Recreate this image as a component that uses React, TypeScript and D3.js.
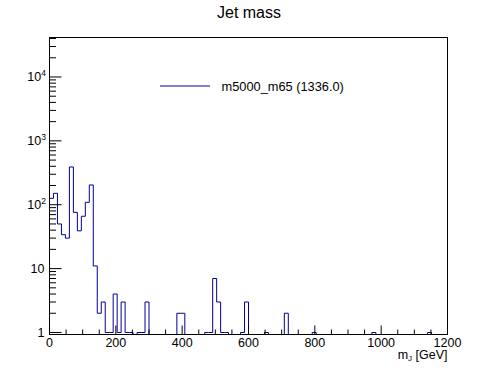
import React, { useEffect, useRef } from 'react';
import * as d3 from 'd3';

// 100 bins of 12 GeV from 0 to 1200
const binWidth = 12;
const counts = [
  126, 151, 50, 34, 30, 390, 76, 39, 66, 109,
  204, 11, 2, 3, 1, 1, 4, 1, 3, 1,
  1, 0, 1, 1, 3, 0, 0, 0, 0, 0,
  0, 0, 2, 2, 0, 0, 0, 0, 0, 1,
  1, 7, 3, 1, 1, 0, 0, 0, 1, 3,
  0, 0, 0, 0, 1, 0, 0, 0, 0, 2,
  0, 0, 0, 0, 0, 0, 1, 0, 0, 0,
  0, 0, 0, 0, 0, 0, 0, 0, 0, 0,
  0, 1, 0, 0, 0, 0, 0, 0, 0, 0,
  0, 0, 0, 0, 0, 1, 0, 0, 0, 0,
];
const xMajorTicks = [0, 200, 400, 600, 800, 1000, 1200];
const yMajorTicks = [1, 10, 100, 1000, 10000];
const yLabels = ['1', '10', '2', '3', '4']; // exponent for 10^n labels
const seriesName = 'm5000_m65 (1336.0)';

const FONT = '"Liberation Sans", Arial, Helvetica, sans-serif';
const LINE = '#000099';

const App = () => {
  const ref = useRef<SVGSVGElement>(null);

  useEffect(() => {
    const svg = d3.select(ref.current);
    svg.selectAll('*').remove();

    const left = 49.5, right = 447.5, top = 37.5, bottom = 334.5;

    const x = d3.scaleLinear().domain([0, 1200]).range([left, right]);
    const y = d3.scaleLog().domain([0.93, 41500]).range([bottom, top]);

    // histogram outline
    const pts: [number, number][] = [[x(0), bottom]];
    counts.forEach((c, i) => {
      const yy = c > 0 ? y(c) : bottom;
      pts.push([x(i * binWidth), yy]);
      pts.push([x((i + 1) * binWidth), yy]);
    });
    pts.push([x(1200), bottom]);

    svg.append('path')
      .attr('d', d3.line()(pts))
      .attr('fill', 'none')
      .attr('stroke', LINE)
      .attr('stroke-width', 1);

    // frame
    svg.append('rect')
      .attr('x', left).attr('y', top)
      .attr('width', right - left).attr('height', bottom - top)
      .attr('fill', 'none').attr('stroke', '#000').attr('stroke-width', 1);

    // x ticks
    const xMinor = d3.range(0, 1201, 50);
    const gx = svg.append('g');
    xMinor.forEach(v => {
      const major = v % 200 === 0;
      gx.append('line')
        .attr('x1', x(v)).attr('x2', x(v))
        .attr('y1', bottom).attr('y2', bottom - (major ? 9 : 5))
        .attr('stroke', '#000');
    });
    xMajorTicks.forEach(v => {
      gx.append('text')
        .attr('x', x(v)).attr('y', bottom + 12)
        .attr('text-anchor', 'middle')
        .attr('font-family', FONT).attr('font-size', 12.5)
        .text(v);
    });
    const xt = svg.append('text')
      .attr('x', right).attr('y', 359)
      .attr('text-anchor', 'end')
      .attr('font-family', FONT).attr('font-size', 12.5);
    xt.append('tspan').text('m');
    xt.append('tspan').attr('font-size', 8).attr('dy', 2).text('J');
    xt.append('tspan').attr('dy', -2).text(' [GeV]');

    // y ticks
    const gy = svg.append('g');
    yMajorTicks.forEach(d => {
      for (let k = 1; k <= 9; k++) {
        const v = d * k;
        if (v > 41500) break;
        gy.append('line')
          .attr('x1', left).attr('x2', left + (k === 1 ? 12 : 6.5))
          .attr('y1', y(v)).attr('y2', y(v))
          .attr('stroke', '#000');
      }
    });
    yMajorTicks.forEach((v, i) => {
      const t = gy.append('text')
        .attr('y', y(v) + 4.5)
        .attr('font-family', FONT).attr('font-size', 12.5)
        .attr('text-anchor', 'end');
      if (i < 2) {
        t.attr('x', 44.5).text(yLabels[i]);
      } else {
        t.attr('x', 46);
        t.append('tspan').text('10');
        t.append('tspan').attr('font-size', 8.5).attr('dy', -5).text(yLabels[i]);
      }
    });

    // title
    svg.append('text')
      .attr('x', 249).attr('y', 17.5)
      .attr('text-anchor', 'middle')
      .attr('font-family', FONT).attr('font-size', 16)
      .text('Jet mass');

    // legend
    svg.append('line')
      .attr('x1', 160).attr('x2', 210)
      .attr('y1', 86).attr('y2', 86)
      .attr('stroke', LINE).attr('stroke-width', 1);
    svg.append('text')
      .attr('x', 221.5).attr('y', 90.5)
      .attr('font-family', FONT).attr('font-size', 12.8)
      .text(seriesName);
  }, []);

  return (
    <svg ref={ref} width={498} height={374}
      style={{ position: 'absolute', left: 0, top: 0, background: '#fff' }} />
  );
};

export default App;
